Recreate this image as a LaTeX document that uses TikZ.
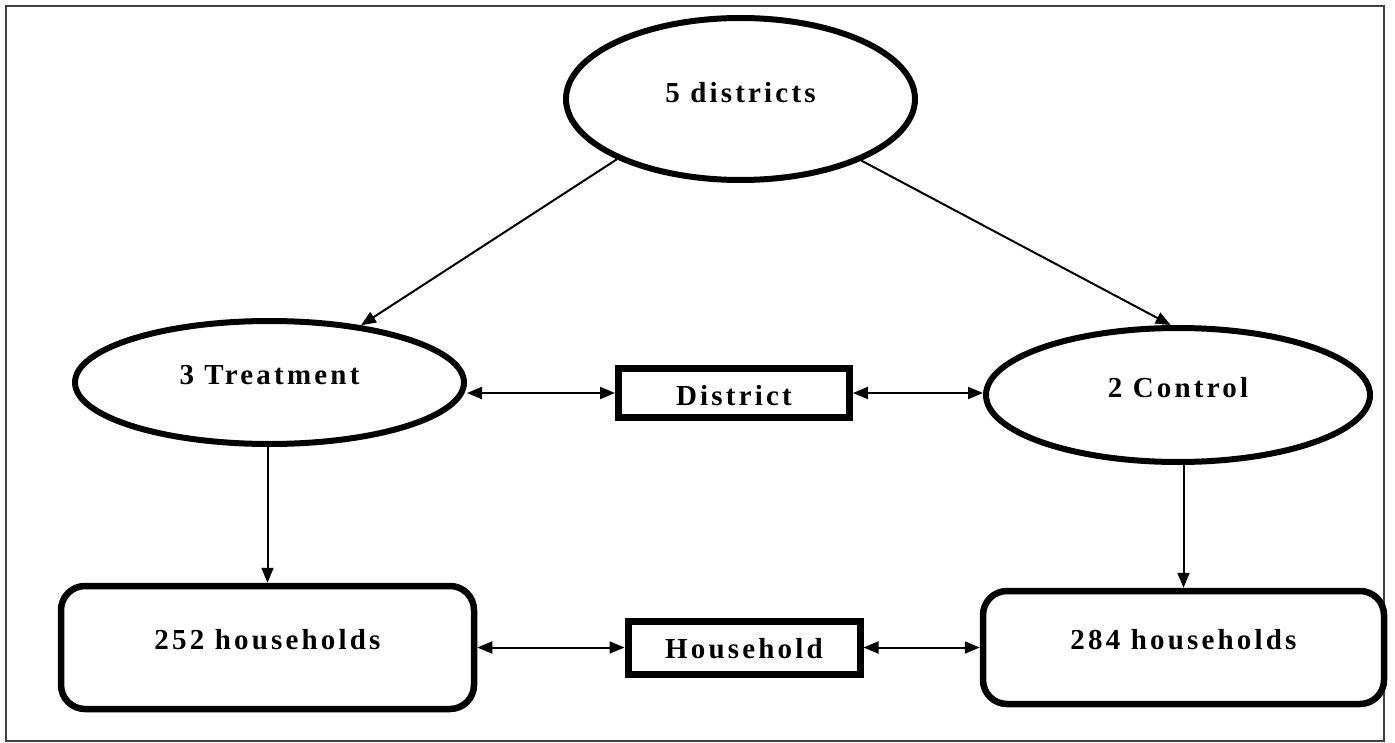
\documentclass[tikz,border=0pt]{standalone}
\usepackage{fontspec}
\newfontfamily\dfont[LetterSpace=11]{Liberation Serif}
\usetikzlibrary{shapes.geometric,arrows.meta}
\begin{document}
\begin{tikzpicture}[x=1pt,y=-1pt,
  txt/.style={font=\dfont\bfseries\fontsize{29}{32}\selectfont, inner sep=0pt},
  ell/.style={ellipse, draw, line width=6pt, inner sep=0pt, fill=white},
  rbox/.style={rectangle, rounded corners=24pt, draw, line width=6.5pt, inner sep=0pt},
  sbox/.style={rectangle, draw, line width=7pt, inner sep=0pt},
  one/.style={-{Triangle[length=15pt,width=12pt]}, line width=2pt},
  both/.style={{Triangle[length=15pt,width=12pt]}-{Triangle[length=15pt,width=12pt]}, line width=2pt}
]
\useasboundingbox (0,0) rectangle (1395,743);
\draw[line width=2.2pt, black!75] (6,6) rectangle (1384,741);

\node[ell, minimum width=349pt, minimum height=162pt,
  label={[txt, yshift=6pt]center:5 districts}] (d5) at (740.5,99) {};
\node[ell, minimum width=389pt, minimum height=123pt,
  label={[txt, yshift=7pt]center:3 Treatment}] (tr) at (269.5,382.5) {};
\node[ell, minimum width=384pt, minimum height=134pt,
  label={[txt, yshift=7pt]center:2 Control}] (ct) at (1178,395) {};

\node[sbox, minimum width=231pt, minimum height=49pt,
  label={[txt, yshift=-3pt]center:District}] (dist) at (734,393) {};
\node[sbox, minimum width=232pt, minimum height=53pt,
  label={[txt, yshift=-1pt]center:Household}] (hhb) at (744,647.5) {};

\node[rbox, minimum width=413pt, minimum height=123pt,
  label={[txt, yshift=8pt]center:252 households}] (hh1) at (267.5,647.5) {};
\node[rbox, minimum width=401pt, minimum height=113pt,
  label={[txt, yshift=8pt]center:284 households}] (hh2) at (1183.5,647.5) {};

\draw[one] (d5.206.7) -- (tr.32);
\draw[one] (d5.333.4) -- (ct.96.7);
\draw[one] (tr.south -| hh1.north) -- (hh1.north);
\draw[one] (ct.south -| hh2.north) -- (hh2.north);

\draw[both] (dist.west -| tr.east) -- (dist.west);
\draw[both] (dist.east) -- (dist.east -| ct.west);
\draw[both] (hhb.west -| hh1.east) -- (hhb.west);
\draw[both] (hhb.east) -- (hhb.east -| hh2.west);
\end{tikzpicture}
\end{document}
